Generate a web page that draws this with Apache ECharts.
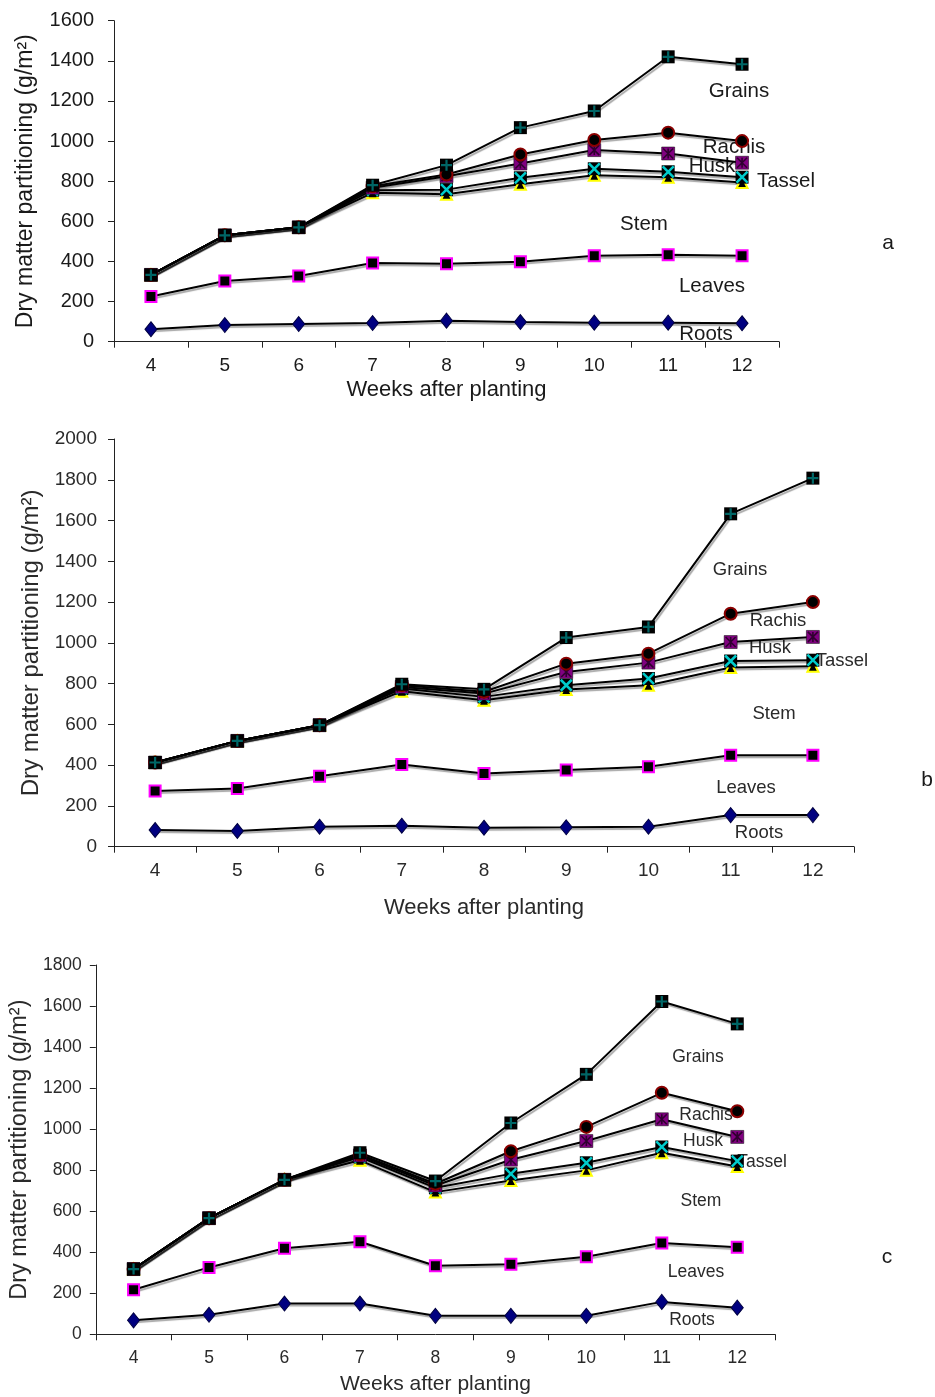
<!DOCTYPE html>
<html>
<head>
<meta charset="utf-8">
<script src="https://cdn.jsdelivr.net/npm/echarts@6/dist/echarts.min.js"></script>
<style>
  html, body { margin: 0; padding: 0; background: #fff; }
  #chart { width: 935px; height: 1397px; }
</style>
</head>
<body>
<div id="chart"></div>
<script>
// ---------- data ----------
const weeks = ['4', '5', '6', '7', '8', '9', '10', '11', '12'];
const partNames = ['Roots', 'Leaves', 'Stem', 'Tassel', 'Husk', 'Rachis', 'Grains'];
const panelTags = ['a', 'b', 'c'];
const yMaxA = 1600, yMaxB = 2000, yMaxC = 1800;
const yStep = 200;

// panel a (cumulative dry matter, g/m2)
const rootsA  = [62, 83, 88, 93, 105, 98, 95, 95, 92];
const leavesA = [225, 303, 327, 392, 388, 398, 428, 433, 428];
const stemA   = [333, 530, 570, 742, 735, 785, 830, 820, 793];
const tasselA = [333, 530, 570, 755, 758, 817, 862, 847, 820];
const huskA   = [333, 530, 570, 767, 825, 888, 955, 938, 892];
const rachisA = [333, 530, 570, 775, 833, 933, 1005, 1042, 1000];
const grainsA = [333, 530, 570, 780, 880, 1067, 1150, 1420, 1383];

// panel b
const rootsB  = [82, 77, 98, 103, 93, 95, 98, 155, 155];
const leavesB = [273, 286, 346, 403, 359, 376, 392, 449, 449];
const stemB   = [413, 519, 596, 763, 718, 771, 792, 879, 885];
const tasselB = [413, 519, 596, 776, 735, 792, 825, 911, 915];
const huskB   = [413, 519, 596, 784, 751, 857, 903, 1004, 1029];
const rachisB = [413, 519, 596, 792, 760, 898, 947, 1143, 1200];
const grainsB = [413, 519, 596, 797, 772, 1026, 1078, 1633, 1808];

// panel c
const rootsC  = [68, 95, 150, 150, 90, 90, 90, 158, 130];
const leavesC = [217, 326, 419, 451, 334, 342, 378, 445, 424];
const stemC   = [318, 566, 753, 848, 693, 750, 799, 885, 818];
const tasselC = [318, 566, 753, 864, 714, 782, 836, 913, 844];
const huskC   = [318, 566, 753, 872, 725, 851, 942, 1048, 962];
const rachisC = [318, 566, 753, 877, 734, 892, 1011, 1177, 1087];
const grainsC = [318, 566, 753, 885, 747, 1030, 1267, 1622, 1513];

const panelData = [
  [rootsA, leavesA, stemA, tasselA, huskA, rachisA, grainsA],
  [rootsB, leavesB, stemB, tasselB, huskB, rachisB, grainsB],
  [rootsC, leavesC, stemC, tasselC, huskC, rachisC, grainsC]
];
const panelMax = [yMaxA, yMaxB, yMaxC];

// ---------- layout / style ----------
const FONT = '"Liberation Sans", Arial, sans-serif';
const grids = [
  { left: 114, right: 156, top: 20.7, height: 321 },
  { left: 114, right: 81,  top: 439,  height: 407.7 },
  { left: 92.7, right: 160, top: 965, height: 369.3 }
];
const axisFont = [
  { y: 20, x: 19, yMargin: 20, xMargin: 15, yTitle: 23, yGap: 77, xTitle: 22, xGap: 37, color: '#1a1a1a' },
  { y: 19, x: 19, yMargin: 17, xMargin: 15, yTitle: 24, yGap: 70, xTitle: 22, xGap: 50, color: '#2a2a2a' },
  { y: 17.5, x: 17.5, yMargin: 14, xMargin: 15, yTitle: 23.5, yGap: 61, xTitle: 21, xGap: 39, color: '#2a2a2a' }
];
// label positions (pixel centers) for the series names drawn inside each panel
const labelPos = [
  { Grains: [739, 91], Rachis: [734, 147], Husk: [712, 166], Tassel: [786, 181], Stem: [644, 224], Leaves: [712, 286], Roots: [706, 334], size: 20.5 },
  { Grains: [740, 570], Rachis: [778, 621], Husk: [770, 648], Tassel: [842, 661], Stem: [774, 714], Leaves: [746, 788], Roots: [759, 833], size: 18.5 },
  { Grains: [698, 1057], Rachis: [706, 1115], Husk: [703, 1141], Tassel: [762, 1162], Stem: [701, 1201], Leaves: [696, 1272], Roots: [692, 1320], size: 17.5 }
];
const tagPos = [[888, 243], [927, 780], [887, 1257]];

const markerStyle = {
  Roots:  { symbol: 'diamond', size: [12, 15], item: { color: '#000080', borderColor: '#000040', borderWidth: 1 } },
  Leaves: { symbol: 'rect', size: 11, item: { color: '#000000', borderColor: '#ff00ff', borderWidth: 2 } },
  Stem:   { symbol: 'triangle', size: 11, item: { color: '#000000', borderColor: '#ffff00', borderWidth: 2 } },
  Tassel: { symbol: 'rect', size: 13, item: { color: '#000000', borderColor: '#000000', borderWidth: 0 },
            overlay: { path: 'path://M0,0 L10,10 M10,0 L0,10', size: 11, color: '#00ffff', width: 2.5 } },
  Husk:   { symbol: 'rect', size: 13, item: { color: '#800080', borderColor: '#000000', borderWidth: 0.5 },
            overlay: { path: 'path://M0,0 L10,10 M10,0 L0,10 M5,0 L5,10', size: 10, color: '#1a001a', width: 1.6 } },
  Rachis: { symbol: 'circle', size: 12, item: { color: '#000000', borderColor: '#8b0000', borderWidth: 2 } },
  Grains: { symbol: 'rect', size: 13, item: { color: '#000000', borderColor: '#000000', borderWidth: 0 },
            overlay: { path: 'path://M5,0 L5,10 M0,5 L10,5', size: 11, color: '#008080', width: 2.2 } }
};

// ---------- build option ----------
const xAxes = [], yAxes = [], series = [], graphics = [];
grids.forEach((g, p) => {
  const f = axisFont[p];
  xAxes.push({
    type: 'category', gridIndex: p, data: weeks, boundaryGap: true,
    name: 'Weeks after planting', nameLocation: 'middle', nameGap: f.xGap,
    nameTextStyle: { fontFamily: FONT, fontSize: f.xTitle, color: f.color },
    axisLine: { lineStyle: { color: '#222', width: 1 } },
    axisTick: { show: true, inside: false, length: 6, alignWithLabel: false, lineStyle: { color: '#222' } },
    axisLabel: { fontFamily: FONT, fontSize: f.x, color: f.color, margin: f.xMargin, interval: 0 },
    splitLine: { show: false }
  });
  yAxes.push({
    type: 'value', gridIndex: p, min: 0, max: panelMax[p], interval: yStep,
    name: 'Dry matter partitioning (g/m²)', nameLocation: 'middle', nameGap: f.yGap,
    nameTextStyle: { fontFamily: FONT, fontSize: f.yTitle, color: f.color },
    axisLine: { show: true, lineStyle: { color: '#222', width: 1 } },
    axisTick: { show: true, inside: false, length: 6, lineStyle: { color: '#222' } },
    axisLabel: { fontFamily: FONT, fontSize: f.y, color: f.color, margin: f.yMargin, formatter: v => String(v) },
    splitLine: { show: false }
  });

  partNames.forEach((name, k) => {
    const m = markerStyle[name];
    const data = panelData[p][k];
    series.push({
      type: 'line', name: name + '-' + panelTags[p],
      xAxisIndex: p, yAxisIndex: p, data: data,
      symbol: m.symbol, symbolSize: m.size, showSymbol: true,
      lineStyle: { color: '#000', width: 2, shadowColor: 'rgba(0,0,0,0.35)', shadowBlur: 1, shadowOffsetX: 1.5, shadowOffsetY: 2 },
      itemStyle: m.item,
      emphasis: { disabled: true },
      animation: false, z: 3
    });
    if (m.overlay) {
      series.push({
        type: 'scatter', name: name + '-glyph-' + panelTags[p],
        xAxisIndex: p, yAxisIndex: p, data: data,
        symbol: m.overlay.path, symbolSize: m.overlay.size,
        itemStyle: { color: 'rgba(0,0,0,0)', borderColor: m.overlay.color, borderWidth: m.overlay.width },
        emphasis: { disabled: true }, silent: true,
        animation: false, z: 3
      });
    }
  });

  // series name annotations
  const lp = labelPos[p];
  partNames.forEach(name => {
    graphics.push({
      type: 'text', x: lp[name][0], y: lp[name][1], z: 1,
      style: { text: name, fontFamily: FONT, fontSize: lp.size, fill: f.color, align: 'center', verticalAlign: 'middle' }
    });
  });
  graphics.push({
    type: 'text', x: tagPos[p][0], y: tagPos[p][1], z: 1,
    style: { text: panelTags[p], fontFamily: FONT, fontSize: 21, fill: '#1a1a1a', align: 'center', verticalAlign: 'middle' }
  });
});

const chart = echarts.init(document.getElementById('chart'), null, { renderer: 'canvas' });
chart.setOption({
  backgroundColor: '#ffffff',
  animation: false,
  grid: grids,
  xAxis: xAxes,
  yAxis: yAxes,
  series: series,
  graphic: graphics
});
</script>
</body>
</html>
